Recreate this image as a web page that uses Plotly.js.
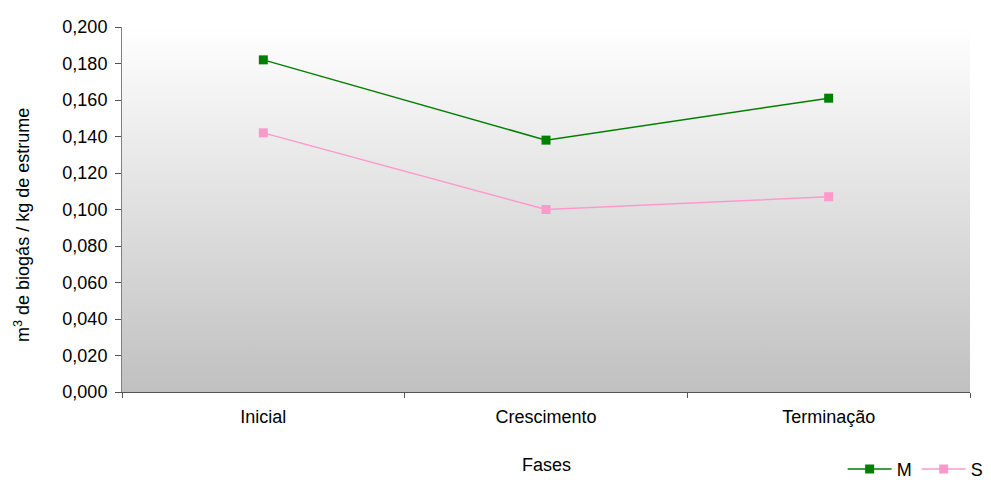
<!DOCTYPE html>
<html>
<head>
<meta charset="utf-8">
<script src="https://cdn.plot.ly/plotly-3.0.1.min.js"></script>
<style>html,body{margin:0;padding:0;background:#fff;}#chart{width:991px;height:480px;}</style>
</head>
<body>
<div id="chart"></div>
<script>
const categories = ["Inicial", "Crescimento", "Terminação"];
const seriesM = [0.182, 0.138, 0.161];
const seriesS = [0.142, 0.100, 0.107];
const yTicks = [0, 0.02, 0.04, 0.06, 0.08, 0.10, 0.12, 0.14, 0.16, 0.18, 0.20];
const xTitle = 'Fases';
const yTitle = 'm<sup>3</sup> de biogás / kg de estrume';

const gradSvg = '<svg xmlns="http://www.w3.org/2000/svg" width="100" height="100" preserveAspectRatio="none">' +
  '<defs><linearGradient id="g" x1="0" y1="0" x2="0" y2="1">' +
  '<stop offset="0" stop-color="#ffffff"/><stop offset="1" stop-color="#c0c0c0"/></linearGradient></defs>' +
  '<rect width="100" height="100" fill="url(#g)"/></svg>';
const gradUrl = 'data:image/svg+xml;base64,' + btoa(gradSvg);

const font = {family: 'Liberation Sans, Arial, sans-serif', size: 18, color: '#000'};

const traces = [
  {x: categories, y: seriesM, name: 'M', type: 'scatter', mode: 'lines+markers',
   line: {color: '#008000', width: 1.5}, marker: {symbol: 'square', size: 9, color: '#008000'}},
  {x: categories, y: seriesS, name: 'S', type: 'scatter', mode: 'lines+markers',
   line: {color: '#ff99cc', width: 1.5}, marker: {symbol: 'square', size: 9, color: '#ff99cc'}}
];

const layout = {
  width: 991, height: 480,
  margin: {l: 122, r: 21, t: 27, b: 88, autoexpand: false},
  paper_bgcolor: '#ffffff',
  plot_bgcolor: 'rgba(0,0,0,0)',
  separators: ',.',
  font: font,
  showlegend: true,
  legend: {orientation: 'h', xref: 'paper', yref: 'paper', x: 1.022, xanchor: 'right', y: -0.212, yanchor: 'middle',
           itemwidth: 44, font: {family: font.family, size: 18, color: '#000'}, bgcolor: 'rgba(0,0,0,0)', tracegroupgap: 0},
  images: [{source: gradUrl, xref: 'paper', yref: 'paper', x: 0, y: 1, sizex: 1, sizey: 1,
            xanchor: 'left', yanchor: 'top', sizing: 'stretch', layer: 'below'}],
  annotations: [
    {text: xTitle, xref: 'paper', yref: 'paper', x: 0.5, y: -0.2, xanchor: 'center', yanchor: 'middle',
     showarrow: false, font: font},
    {text: yTitle, xref: 'paper', yref: 'paper', x: -0.118, y: 0.4575, xanchor: 'center', yanchor: 'middle',
     textangle: -90, showarrow: false, font: font}
  ],
  xaxis: {
    type: 'category', range: [-0.5, 2.5], tickson: 'boundaries', automargin: false,
    showline: true, linecolor: '#555', linewidth: 1, mirror: false,
    ticks: 'outside', ticklen: 5, tickcolor: '#555', showgrid: false, zeroline: false,
    tickfont: font, ticklabelstandoff: 8
  },
  yaxis: {
    range: [0, 0.2], tickvals: yTicks, tickformat: '.3f', automargin: false,
    showline: true, linecolor: '#808080', linewidth: 1,
    ticks: 'outside', ticklen: 6, tickcolor: '#555', showgrid: false, zeroline: false,
    tickfont: font, ticklabelstandoff: 4
  }
};

Plotly.newPlot('chart', traces, layout, {displayModeBar: false, staticPlot: true});
</script>
</body>
</html>
